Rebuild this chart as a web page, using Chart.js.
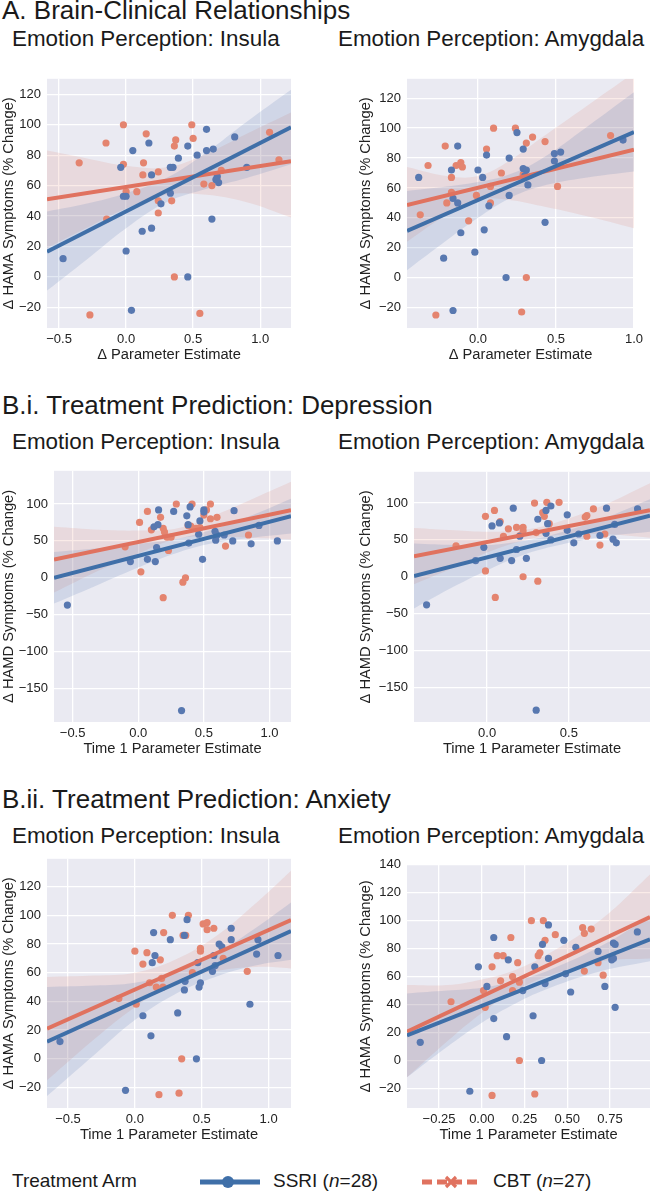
<!DOCTYPE html>
<html>
<head>
<meta charset="utf-8">
<script src="https://cdn.jsdelivr.net/npm/chart.js@4.4.0/dist/chart.umd.min.js"></script>
<style>
    body { margin: 0; width: 660px; height: 1192px; position: relative; overflow: hidden; background: #fff;
           font-family: 'Liberation Sans', Arial, sans-serif; color: #1a1a1a; }
    .t { position: absolute; white-space: nowrap; line-height: 1; }
    canvas { position: absolute; }
</style>
</head>
<body>
<div class="t" style="left:2px;top:-3px;font-size:26px">A. Brain-Clinical Relationships</div>
<div class="t" style="left:12px;top:28px;font-size:22.4px">Emotion Perception: Insula</div>
<div class="t" style="left:338px;top:28px;font-size:22.4px">Emotion Perception: Amygdala</div>

<div class="t" style="left:2px;top:392px;font-size:26px">B.i. Treatment Prediction: Depression</div>
<div class="t" style="left:12px;top:431px;font-size:22.4px">Emotion Perception: Insula</div>
<div class="t" style="left:338px;top:431px;font-size:22.4px">Emotion Perception: Amygdala</div>

<div class="t" style="left:2px;top:786px;font-size:26px">B.ii. Treatment Prediction: Anxiety</div>
<div class="t" style="left:12px;top:825px;font-size:22.4px">Emotion Perception: Insula</div>
<div class="t" style="left:338px;top:825px;font-size:22.4px">Emotion Perception: Amygdala</div>

<svg style="position:absolute;left:0;top:1168px" width="660" height="28">
    <line x1="200" y1="14" x2="260" y2="14" stroke="#3f6fa8" stroke-width="5"/>
    <circle cx="228" cy="14" r="6" fill="#3f6fa8"/>
    <line x1="422" y1="14" x2="481" y2="14" stroke="#e0725f" stroke-width="5" stroke-dasharray="10 5"/>
    <path d="M446 9 L456 19 M456 9 L446 19" stroke="#e0725f" stroke-width="3.2"/>
</svg>
<div class="t" style="left:12px;top:1171px;font-size:19px">Treatment Arm</div>
<div class="t" style="left:273px;top:1171px;font-size:19px">SSRI (<i>n</i>=28)</div>
<div class="t" style="left:493px;top:1171px;font-size:19px">CBT (<i>n</i>=27)</div>

<script>
// ---- A. Brain-Clinical, Insula ----
const a1XRange = [-0.59, 1.23];
const a1YRange = [-33.6, 130.2];
const a1XTicks = [-0.5, 0, 0.5, 1.0];
const a1YTicks = [-20, 0, 20, 40, 60, 80, 100, 120];
const a1SsriX = [-0.47, -0.04, -0.02, 0.00, 0.00, 0.05, 0.04, 0.12, 0.17, 0.19, 0.19, 0.26, 0.33, 0.35, 0.39, 0.46, 0.46, 0.53, 0.60, 0.60, 0.65, 0.64, 0.69, 0.81, 0.90, 0.68, 0.33, 0.67];
const a1SsriY = [12, 72, 53, 53, 17, 83, -22, 30, 88, 32, 67, 48, 55, 72, 78, 86, 0, 80, 97, 83, 84, 38, 62, 92, 72, 66, 72, 64];
const a1CbtX = [-0.35, -0.27, -0.15, -0.145, -0.02, -0.02, 0.00, 0.08, 0.13, 0.125, 0.15, 0.24, 0.24, 0.24, 0.34, 0.36, 0.36, 0.37, 0.49, 0.50, 0.55, 0.58, 0.64, 0.71, 0.68, 1.07, 1.14];
const a1CbtY = [75, -25, 88, 38, 100, 74, 56, 56, 75, 67, 94, 69, 50, 42, 50, 86, 0, 90, 100, 91, -24, 61, 60, 70, 64, 95, 77];
const a1BandX = [-0.59, -0.3, 0, 0.3, 0.6, 0.9, 1.23];
const a1SsriLo = [-9, 11, 32, 49, 58, 65, 74];
const a1SsriHi = [43, 48, 55, 65, 82, 102, 123];
const a1CbtLo = [19, 32, 45, 54, 54, 49, 39];
const a1CbtHi = [83, 78, 73, 72, 81, 94, 108];
const a1SsriFit = [16.6, 98.4];
const a1CbtFit = [51, 76];

// ---- A. Brain-Clinical, Amygdala ----
const a2XRange = [-0.455, 1.0];
const a2YRange = [-33.7, 133];
const a2XTicks = [0, 0.5, 1.0];
const a2YTicks = [-20, 0, 20, 40, 60, 80, 100, 120];
const a2SsriX = [-0.38, -0.22, -0.17, -0.16, -0.13, -0.13, -0.16, -0.11, -0.02, 0.00, 0.03, 0.04, 0.055, 0.07, 0.20, 0.20, 0.18, 0.25, 0.29, 0.29, 0.31, 0.32, 0.43, 0.49, 0.49, 0.53, 0.93, 0.30];
const a2SsriY = [67, 13, 72, 53, 88, 50, -22, 30, 17, 72, 67, 32, 82, 48, 80, 55, 0, 97, 86, 73, 72, 62, 37, 83, 78, 84, 92, 68];
const a2CbtX = [-0.37, -0.32, -0.27, -0.21, -0.20, -0.17, -0.17, -0.14, -0.11, -0.10, -0.06, -0.01, 0.055, 0.08, 0.08, 0.10, 0.15, 0.24, 0.28, 0.31, 0.31, 0.29, 0.35, 0.43, 0.51, 0.85, 0.30];
const a2CbtY = [42, 75, -25, 88, 50, 67, 57, 75, 77, 74, 38, 55, 86, 61, 50, 100, 70, 100, -23, 90, 0, 69, 94, 91, 61, 95, 71];
const a2BandX = [-0.455, -0.2, 0, 0.2, 0.4, 0.7, 1.0];
const a2SsriLo = [5, 25, 40, 53, 61, 67, 71];
const a2SsriHi = [58, 61, 64, 69, 79, 101, 124];
const a2CbtLo = [24, 42, 52, 52, 48, 41, 33];
const a2CbtHi = [74, 68, 68, 78, 93, 115, 137];
const a2SsriFit = [31.3, 97.4];
const a2CbtFit = [48.5, 85.5];

// ---- B.i. Depression, Insula ----
const bi1XRange = [-0.642, 1.164];
const bi1YRange = [-195.5, 145];
const bi1XTicks = [-0.5, 0, 0.5, 1.0];
const bi1YTicks = [-150, -100, -50, 0, 50, 100];
const bi1SsriX = [-0.54, -0.06, 0.07, 0.12, 0.13, 0.14, 0.155, 0.15, 0.27, 0.33, 0.37, 0.38, 0.385, 0.395, 0.46, 0.47, 0.49, 0.50, 0.585, 0.59, 0.655, 0.72, 0.73, 0.86, 0.92, 1.06, 0.50, 0.60];
const bi1SsriY = [-37, 22, 25, 69, 22, 41, 92, 72, 90, -180, 84, 72, 47, 96, 59, 77, 25, 92, 63, 51, 58, 50, 91, 46, 71, 50, 89, 58];
const bi1CbtX = [-0.10, 0.01, 0.02, 0.07, 0.10, 0.17, 0.19, 0.20, 0.19, 0.22, 0.23, 0.29, 0.34, 0.36, 0.38, 0.41, 0.44, 0.50, 0.52, 0.55, 0.55, 0.60, 0.665, 0.84, 0.47, 0.25, 0.40];
const bi1CbtY = [42, 75, 8, 90, 65, 82, 67, 62, -27, 55, 37, 100, -6, 0, 71, 100, 67, 85, 92, 100, 80, 82, 43, 58, 68, 55, 70];
const bi1BandX = [-0.642, -0.3, 0, 0.3, 0.6, 0.9, 1.164];
const bi1SsriLo = [-35, -9, 14, 34, 48, 55, 60];
const bi1SsriHi = [35, 40, 46, 53, 67, 87, 107];
const bi1CbtLo = [-20, 10, 33, 53, 56, 54, 52];
const bi1CbtHi = [69, 65, 64, 67, 86, 109, 130];
const bi1SsriFit = [0, 83.5];
const bi1CbtFit = [24.6, 91.5];

// ---- B.i. Depression, Amygdala ----
const bi2XRange = [-0.447, 0.996];
const bi2YRange = [-197, 142.4];
const bi2XTicks = [0, 0.5];
const bi2YTicks = [-150, -100, -50, 0, 50, 100];
const bi2SsriX = [-0.37, -0.07, -0.02, 0.03, 0.075, 0.08, 0.15, 0.16, 0.18, 0.24, 0.30, 0.31, 0.36, 0.36, 0.37, 0.39, 0.39, 0.49, 0.49, 0.53, 0.56, 0.69, 0.73, 0.77, 0.78, 0.79, 0.92, 0.20];
const bi2SsriY = [-38, 22, 40, 69, 73, 25, 22, 93, 37, 25, -181, 78, 59, 90, 72, 96, 50, 84, 63, 46, 58, 56, 93, 51, 71, 46, 92, 55];
const bi2CbtX = [-0.19, -0.01, -0.01, 0.045, 0.05, 0.08, 0.10, 0.13, 0.18, 0.20, 0.22, 0.22, 0.22, 0.29, 0.31, 0.34, 0.35, 0.365, 0.38, 0.44, 0.60, 0.61, 0.61, 0.65, 0.69, 0.72, 0.30];
const bi2CbtY = [42, 82, 8, 90, -28, 75, 55, 65, 67, 56, 67, 62, 0, 100, -6, 87, 82, 101, 72, 101, 81, 83, 55, 92, 43, 58, 60];
const bi2BandX = [-0.447, -0.2, 0, 0.2, 0.4, 0.7, 0.996];
const bi2SsriLo = [-43, -13, 9, 28, 41, 54, 61];
const bi2SsriHi = [45, 43, 43, 48, 57, 78, 105];
const bi2CbtLo = [-10, 13, 33, 48, 56, 58, 53];
const bi2CbtHi = [66, 63, 61, 63, 72, 96, 127];
const bi2SsriFit = [0.9, 83];
const bi2CbtFit = [27.7, 90.2];

// ---- B.ii. Anxiety, Insula ----
const bii1XRange = [-0.657, 1.167];
const bii1YRange = [-34.3, 139.4];
const bii1XTicks = [-0.5, 0, 0.5, 1.0];
const bii1YTicks = [-20, 0, 20, 40, 60, 80, 100, 120];
const bii1SsriX = [-0.56, -0.07, 0.06, 0.12, 0.13, 0.14, 0.15, 0.265, 0.32, 0.37, 0.375, 0.39, 0.37, 0.46, 0.47, 0.48, 0.49, 0.58, 0.59, 0.63, 0.65, 0.72, 0.72, 0.86, 0.91, 0.92, 1.07, 0.60];
const bii1SsriY = [12, -22, 30, 16, 67, 88, 72, 83, 32, 48, 54, 97, 86, 0, 67, 50, 53, 61, 72, 80, 78, 91, 83, 38, 73, 83, 72, 65];
const bii1CbtX = [-0.12, 0.00, 0.01, 0.06, 0.09, 0.11, 0.16, 0.18, 0.19, 0.20, 0.215, 0.21, 0.28, 0.33, 0.35, 0.36, 0.38, 0.40, 0.43, 0.49, 0.49, 0.51, 0.54, 0.54, 0.59, 0.66, 0.84];
const bii1CbtY = [42, 75, 38, 66, 74, 53, 50, -25, 69, 56, 88, 50, 100, -24, 0, 86, 86, 100, 60, 75, 77, 94, 90, 95, 91, 70, 61];
const bii1BandX = [-0.657, -0.3, 0, 0.3, 0.6, 0.9, 1.167];
const bii1SsriLo = [-26, 3, 27, 45, 57, 65, 69];
const bii1SsriHi = [50, 51, 53, 60, 73, 91, 109];
const bii1CbtLo = [-15, 14, 36, 53, 61, 64, 63];
const bii1CbtHi = [57, 58, 60, 69, 85, 108, 131];
const bii1SsriFit = [11.9, 89.1];
const bii1CbtFit = [21, 96.7];

// ---- B.ii. Anxiety, Amygdala ----
const bii2XRange = [-0.4375, 0.984];
const bii2YRange = [-34, 140];
const bii2XTicks = [-0.25, 0, 0.25, 0.5, 0.75];
const bii2YTicks = [-20, 0, 20, 40, 60, 80, 100, 120, 140];
const bii2SsriX = [-0.36, -0.07, -0.02, 0.03, 0.07, 0.07, 0.145, 0.155, 0.24, 0.30, 0.31, 0.35, 0.355, 0.37, 0.39, 0.39, 0.48, 0.49, 0.52, 0.55, 0.68, 0.72, 0.76, 0.77, 0.77, 0.78, 0.91, 0.78];
const bii2SsriY = [13, -22, 67, 53, 88, 30, 17, 72, 50, 32, 67, 0, 83, 55, 97, 73, 86, 62, 49, 81, 78, 53, 72, 84, 73, 38, 92, 83];
const bii2CbtX = [-0.18, 0.01, 0.02, 0.06, 0.06, 0.09, 0.125, 0.11, 0.17, 0.18, 0.18, 0.21, 0.22, 0.22, 0.29, 0.31, 0.33, 0.34, 0.36, 0.37, 0.43, 0.59, 0.60, 0.64, 0.60, 0.68, 0.71];
const bii2CbtY = [42, 50, 38, 67, -25, 75, 75, 57, 88, 60, 50, 70, 56, 0, 100, -24, 75, 77, 100, 86, 90, 95, 91, 94, 64, 70, 61];
const bii2BandX = [-0.4375, -0.2, 0, 0.2, 0.4, 0.7, 0.984];
const bii2SsriLo = [-12, 10, 27, 41, 52, 64, 71];
const bii2SsriHi = [48, 50, 52, 57, 65, 82, 103];
const bii2CbtLo = [-12, 14, 34, 50, 61, 71, 73];
const bii2CbtHi = [54, 54, 58, 65, 77, 101, 133];
const bii2SsriFit = [18, 86.7];
const bii2CbtFit = [20.6, 102.6];

const BLUE_LINE = '#3f6fa8';
const BLUE_PT = '#5878b0';
const BLUE_BAND = 'rgba(76, 114, 176, 0.16)';
const RED_LINE = '#e0725f';
const RED_PT = '#e4846f';
const RED_BAND = 'rgba(224, 120, 100, 0.15)';
const TEXT = '#222';
const FONT = "'Liberation Sans', Arial, sans-serif";

const HAMA = '\u0394 HAMA Symptoms (% Change)';
const HAMD = '\u0394 HAMD Symptoms (% Change)';
const DPE = '\u0394 Parameter Estimate';
const T1PE = 'Time 1 Parameter Estimate';

const panels = [
    { box: { L: 47, T: 75, R: 291, B: 328, CL: 0 }, xr: a1XRange, yr: a1YRange, xt: a1XTicks, yt: a1YTicks, dec: 1, xTitle: DPE, yTitle: HAMA,
      sx: a1SsriX, sy: a1SsriY, cx: a1CbtX, cy: a1CbtY, bx: a1BandX, sLo: a1SsriLo, sHi: a1SsriHi, cLo: a1CbtLo, cHi: a1CbtHi, sFit: a1SsriFit, cFit: a1CbtFit },
    { box: { L: 407, T: 75, R: 637, B: 328, CL: 357 }, xr: a2XRange, yr: a2YRange, xt: a2XTicks, yt: a2YTicks, dec: 1, xTitle: DPE, yTitle: HAMA,
      sx: a2SsriX, sy: a2SsriY, cx: a2CbtX, cy: a2CbtY, bx: a2BandX, sLo: a2SsriLo, sHi: a2SsriHi, cLo: a2CbtLo, cHi: a2CbtHi, sFit: a2SsriFit, cFit: a2CbtFit },
    { box: { L: 54, T: 467, R: 291, B: 722, CL: 0 }, xr: bi1XRange, yr: bi1YRange, xt: bi1XTicks, yt: bi1YTicks, dec: 1, xTitle: T1PE, yTitle: HAMD,
      sx: bi1SsriX, sy: bi1SsriY, cx: bi1CbtX, cy: bi1CbtY, bx: bi1BandX, sLo: bi1SsriLo, sHi: bi1SsriHi, cLo: bi1CbtLo, cHi: bi1CbtHi, sFit: bi1SsriFit, cFit: bi1CbtFit },
    { box: { L: 414, T: 468, R: 650, B: 722, CL: 357 }, xr: bi2XRange, yr: bi2YRange, xt: bi2XTicks, yt: bi2YTicks, dec: 1, xTitle: T1PE, yTitle: HAMD,
      sx: bi2SsriX, sy: bi2SsriY, cx: bi2CbtX, cy: bi2CbtY, bx: bi2BandX, sLo: bi2SsriLo, sHi: bi2SsriHi, cLo: bi2CbtLo, cHi: bi2CbtHi, sFit: bi2SsriFit, cFit: bi2CbtFit },
    { box: { L: 47, T: 855, R: 291, B: 1108, CL: 0 }, xr: bii1XRange, yr: bii1YRange, xt: bii1XTicks, yt: bii1YTicks, dec: 1, xTitle: T1PE, yTitle: HAMA,
      sx: bii1SsriX, sy: bii1SsriY, cx: bii1CbtX, cy: bii1CbtY, bx: bii1BandX, sLo: bii1SsriLo, sHi: bii1SsriHi, cLo: bii1CbtLo, cHi: bii1CbtHi, sFit: bii1SsriFit, cFit: bii1CbtFit },
    { box: { L: 407, T: 861, R: 650, B: 1108, CL: 357 }, xr: bii2XRange, yr: bii2YRange, xt: bii2XTicks, yt: bii2YTicks, dec: 2, xTitle: T1PE, yTitle: HAMA,
      sx: bii2SsriX, sy: bii2SsriY, cx: bii2CbtX, cy: bii2CbtY, bx: bii2BandX, sLo: bii2SsriLo, sHi: bii2SsriHi, cLo: bii2CbtLo, cHi: bii2CbtHi, sFit: bii2SsriFit, cFit: bii2CbtFit }
];

const plotBg = {
    id: 'plotBg',
    beforeDraw(chart) {
        const { ctx, chartArea: a } = chart;
        ctx.save();
        ctx.fillStyle = '#eaeaf2';
        ctx.fillRect(a.left, a.top, a.right - a.left, a.bottom - a.top);
        ctx.restore();
    }
};

function fmt(v, dec) {
    const s = Math.abs(v).toFixed(dec);
    return v < 0 ? '\u2212' + s : s;
}

function zip(xs, ys) {
    return xs.map((x, i) => ({ x, y: ys[i] }));
}

function scatterSet(xs, ys, color) {
    return { data: zip(xs, ys), showLine: false, pointRadius: 3.6, pointBorderWidth: 0,
             pointBackgroundColor: color, borderColor: color };
}

function fitSet(xr, ys, color) {
    return { data: zip(xr, ys), borderColor: color, borderWidth: 4, pointRadius: 0, fill: false };
}

function bandSet(xs, ys, fillColor, isUpper) {
    return { data: zip(xs, ys), borderWidth: 0, borderColor: 'rgba(0,0,0,0)', pointRadius: 0,
             tension: 0.4, backgroundColor: fillColor, fill: isUpper ? '-1' : false };
}

function drawPanel(p) {
    const b = p.box;
    const padTop = 10, padRight = 10, padBottom = 4, xh = 40;
    const yw = b.L - b.CL;
    const canvas = document.createElement('canvas');
    canvas.width = b.R - b.CL + padRight;
    canvas.height = padTop + (b.B - b.T) + xh + padBottom;
    canvas.style.left = b.CL + 'px';
    canvas.style.top = (b.T - padTop) + 'px';
    document.body.appendChild(canvas);

    const tickFont = { family: FONT, size: 13 };
    const titleFont = { family: FONT, size: 14.7 };

    new Chart(canvas, {
        type: 'line',
        data: {
            datasets: [
                fitSet(p.xr, p.sFit, BLUE_LINE),
                fitSet(p.xr, p.cFit, RED_LINE),
                scatterSet(p.sx, p.sy, BLUE_PT),
                scatterSet(p.cx, p.cy, RED_PT),
                bandSet(p.bx, p.sLo, BLUE_BAND, false),
                bandSet(p.bx, p.sHi, BLUE_BAND, true),
                bandSet(p.bx, p.cLo, RED_BAND, false),
                bandSet(p.bx, p.cHi, RED_BAND, true)
            ]
        },
        options: {
            responsive: false,
            animation: false,
            events: [],
            layout: { autoPadding: false, padding: { left: 0, top: padTop, right: padRight, bottom: padBottom } },
            plugins: { legend: { display: false }, tooltip: { enabled: false } },
            scales: {
                x: {
                    type: 'linear', min: p.xr[0], max: p.xr[1],
                    afterBuildTicks: s => { s.ticks = p.xt.map(v => ({ value: v })); },
                    afterFit: s => { s.height = xh; },
                    grid: { color: '#ffffff', lineWidth: 1.3, drawTicks: false },
                    border: { display: false },
                    ticks: { padding: 4, color: TEXT, font: tickFont, autoSkip: false, maxRotation: 0,
                             callback: v => fmt(v, p.dec) },
                    title: { display: true, text: p.xTitle, color: TEXT, font: titleFont, padding: { top: 0, bottom: 4 } }
                },
                y: {
                    type: 'linear', min: p.yr[0], max: p.yr[1],
                    afterBuildTicks: s => { s.ticks = p.yt.map(v => ({ value: v })); },
                    afterFit: s => { s.width = yw; },
                    grid: { color: '#ffffff', lineWidth: 1.3, drawTicks: false },
                    border: { display: false },
                    ticks: { padding: 6, color: TEXT, font: tickFont, autoSkip: false,
                             callback: v => fmt(v, 0) },
                    title: { display: true, text: p.yTitle, color: TEXT, font: titleFont, padding: { top: 0, bottom: 0 } }
                }
            }
        },
        plugins: [plotBg]
    });
}

panels.forEach(drawPanel);
</script>
</body>
</html>
